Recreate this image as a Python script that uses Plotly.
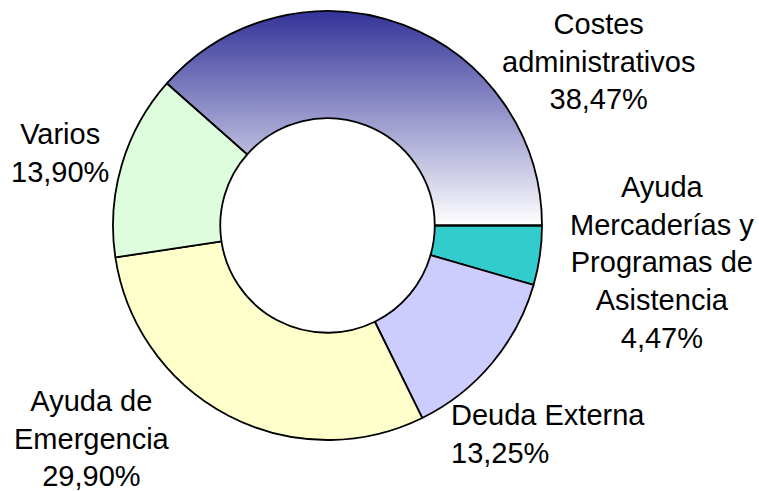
import numpy as np
import plotly.graph_objects as go

categories = ["Costes administrativos", "Varios", "Ayuda de Emergencia",
              "Deuda Externa", "Ayuda Mercaderías y Programas de Asistencia"]
values = [38.47, 13.90, 29.90, 13.25, 4.47]
label_texts = ["Costes<br>administrativos<br>38,47%",
               "Varios<br>13,90%",
               "Ayuda de<br>Emergencia<br>29,90%",
               "Deuda Externa<br>13,25%",
               "Ayuda<br>Mercaderías y<br>Programas de<br>Asistencia<br>4,47%"]
colors = ["rgba(0,0,0,0)", "#DDFDDD", "#FFFFCC", "#CCCCFF", "#33CCCC"]

HOLE = 0.5
W, H = 759, 491
ML, MR, MT, MB = 113, 217, 11, 51
PW = W - ML - MR
PH = H - MT - MB

fig = go.Figure()

# gradient-filled sector for the first slice (computed from its data share)
total = sum(values)
frac = values[0] / total
theta = np.linspace(0, 2 * np.pi * frac, 200)
xs = np.concatenate([np.cos(theta), HOLE * np.cos(theta[::-1])])
ys = np.concatenate([np.sin(theta), HOLE * np.sin(theta[::-1])])
xs = np.append(xs, xs[0])
ys = np.append(ys, ys[0])
fig.add_trace(go.Scatter(
    x=xs, y=ys, mode="lines", fill="toself", line=dict(width=0),
    fillgradient=dict(type="vertical", start=0, stop=1,
                      colorscale=[[0, "#FFFFFF"], [1, "#333399"]]),
    hoverinfo="skip", showlegend=False))

# slices laid out counter-clockwise from 3 o'clock (drawn clockwise in reverse order)
fig.add_trace(go.Pie(
    labels=categories[::-1], values=values[::-1], sort=False, direction="clockwise",
    rotation=90, hole=HOLE, textinfo="none", hoverinfo="skip",
    marker=dict(colors=colors[::-1], line=dict(color="black", width=1.8)),
    domain=dict(x=[0, 1], y=[0, 1]), showlegend=False))

# label placement (pixel centres -> paper units)
label_px = [(598.5, 62, "center"), (60, 153, "center"), (92, 438, "center"),
            (449, 434, "left"), (662, 262.5, "center")]
for (px, py, al), txt in zip(label_px, label_texts):
    fig.add_annotation(
        x=(px - ML) / PW, y=(H - MB - py) / PH, xref="paper", yref="paper",
        text=txt, showarrow=False, align=al,
        xanchor="left" if al == "left" else "center", yanchor="middle",
        font=dict(family="Liberation Sans, Arial, sans-serif", size=29, color="black"))

fig.update_xaxes(range=[-1, 1], visible=False, fixedrange=True)
fig.update_yaxes(range=[-1, 1], visible=False, fixedrange=True)
fig.update_layout(
    width=W, height=H, margin=dict(l=ML, r=MR, t=MT, b=MB),
    paper_bgcolor="white", plot_bgcolor="rgba(0,0,0,0)", showlegend=False)

fig.write_html("out.html", config={"staticPlot": True},
               post_script="document.body.style.margin='0';")
